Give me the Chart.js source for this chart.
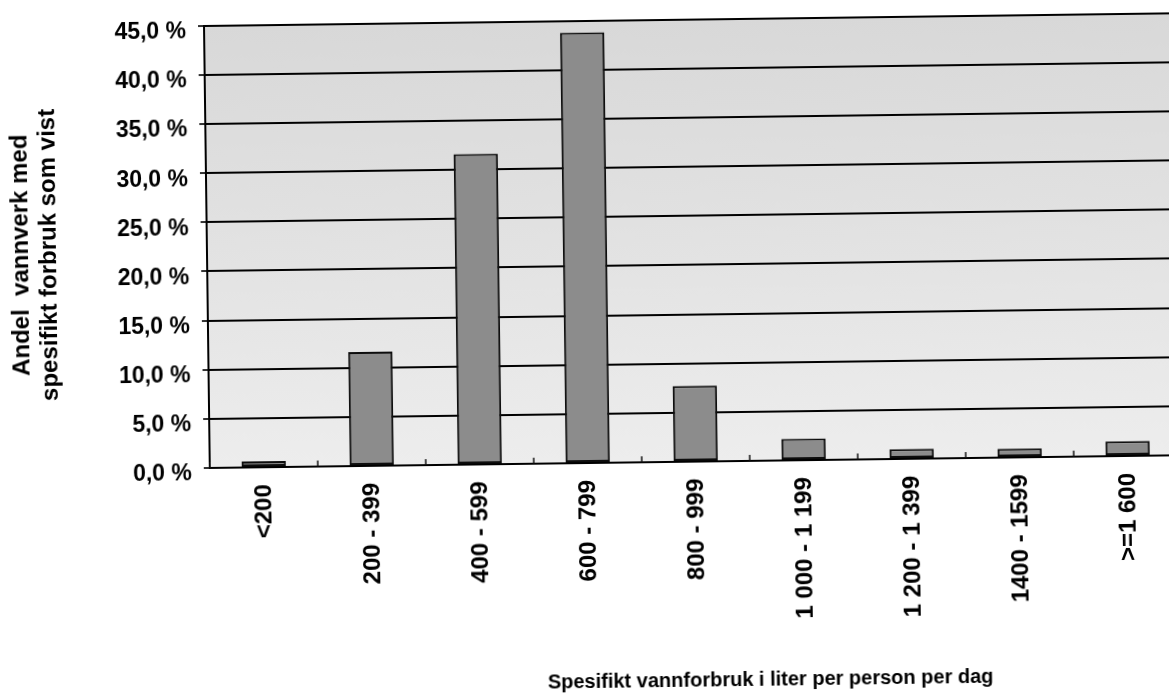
<!DOCTYPE html>
<html lang="no">
<head>
<meta charset="utf-8">
<title>Spesifikt vannforbruk</title>
<script src="https://cdn.jsdelivr.net/npm/chart.js@4/dist/chart.umd.min.js"></script>
<style>
  html, body { margin: 0; padding: 0; background: #ffffff; overflow: hidden; width: 1169px; height: 699px; }
  #wrap { position: relative; width: 1169px; height: 699px; overflow: hidden; }
  #c { position: absolute; left: 0; top: 0; transform: rotate(-0.75deg); transform-origin: 204px 25px; }
</style>
</head>
<body>
<div id="wrap"><canvas id="c" width="1200" height="699"></canvas></div>
<script>
// Spesifikt forbruk (liter per person per dag), klasser
const categories = ['<200', '200 - 399', '400 - 599', '600 - 799', '800 - 999', '1 000 - 1 199', '1 200 - 1 399', '1400 - 1599', '>=1 600'];
// Andel vannverk i hver klasse (prosent)
const shares = [0.6, 11.6, 31.6, 43.8, 7.7, 2.2, 1.0, 0.9, 1.5];
// Verdiakse
const yTickValues = [0, 5, 10, 15, 20, 25, 30, 35, 40, 45];
const yTitleLines = ['Andel  vannverk med', 'spesifikt forbruk som vist'];
const xTitle = 'Spesifikt vannforbruk i liter per person per dag';

const FONT = "'Liberation Sans', Arial, Helvetica, sans-serif";

// Grå bakgrunn i plottområdet
const plotBackground = {
  id: 'plotBackground',
  beforeDraw(chart) {
    const { ctx, chartArea: a } = chart;
    const g = ctx.createLinearGradient(0, a.top, 0, a.bottom);
    g.addColorStop(0, '#d8d8d8');
    g.addColorStop(0.5, '#e2e2e2');
    g.addColorStop(1, '#ededed');
    ctx.save();
    ctx.fillStyle = g;
    ctx.fillRect(a.left, a.top, a.right - a.left, a.bottom - a.top);
    ctx.restore();
  }
};

// Korte innvendige merker mellom kategoriene på x-aksen
const innerTicks = {
  id: 'innerTicks',
  afterDatasetsDraw(chart) {
    const { ctx, chartArea: a } = chart;
    const xs = chart.scales.x;
    const n = categories.length;
    ctx.save();
    ctx.strokeStyle = '#111';
    ctx.lineWidth = 1.5;
    for (let i = 0; i <= n; i++) {
      let x;
      if (i === 0) x = a.left;
      else if (i === n) x = a.right;
      else x = (xs.getPixelForTick(i - 1) + xs.getPixelForTick(i)) / 2;
      ctx.beginPath();
      ctx.moveTo(x, a.bottom);
      ctx.lineTo(x, a.bottom - 6);
      ctx.stroke();
    }
    ctx.restore();
  }
};

// Aksetitler
const axisTitles = {
  id: 'axisTitles',
  afterDraw(chart) {
    const { ctx, chartArea: a } = chart;
    ctx.save();
    ctx.fillStyle = '#000';
    ctx.textAlign = 'center';
    ctx.textBaseline = 'middle';
    ctx.font = 'bold 20px ' + FONT;
    ctx.fillText(xTitle, 762, 687);
    ctx.font = 'bold 24px ' + FONT;
    const cy = (a.top + a.bottom) / 2 + 6;
    const xs = [18, 46];
    yTitleLines.forEach((line, i) => {
      ctx.save();
      ctx.translate(xs[i], cy);
      ctx.rotate(-Math.PI / 2);
      ctx.fillText(line, 0, 0);
      ctx.restore();
    });
    ctx.restore();
  }
};

new Chart(document.getElementById('c'), {
  type: 'bar',
  data: {
    labels: categories,
    datasets: [{
      data: shares,
      backgroundColor: '#8c8c8c',
      borderColor: '#0d0d0d',
      borderWidth: 2,
      borderSkipped: false,
      categoryPercentage: 1.0,
      barPercentage: 0.41
    }]
  },
  options: {
    responsive: false,
    animation: false,
    devicePixelRatio: 1,
    layout: { padding: { left: 0, top: 25, right: 24, bottom: 0 } },
    plugins: {
      legend: { display: false },
      tooltip: { enabled: false },
      title: { display: false }
    },
    scales: {
      x: {
        offset: true,
        grid: { display: false, drawTicks: false },
        border: { display: true, color: '#000', width: 2 },
        ticks: {
          color: '#000',
          font: { family: FONT, size: 24, weight: 'bold' },
          minRotation: 90,
          maxRotation: 90,
          autoSkip: false,
          padding: 17
        },
        afterFit(scale) { scale.height = 231; }
      },
      y: {
        min: 0,
        max: 45,
        afterBuildTicks(scale) { scale.ticks = yTickValues.map(v => ({ value: v })); },
        grid: { color: '#000', lineWidth: 2, drawTicks: true, tickLength: 6, tickColor: '#333' },
        border: { display: true, color: '#000', width: 2 },
        ticks: {
          color: '#000',
          font: { family: FONT, size: 23, weight: 'bold' },
          padding: 12,
          labelOffset: 6,
          callback: (v) => v.toFixed(1).replace('.', ',') + ' %'
        },
        afterFit(scale) { scale.width = 204; }
      }
    }
  },
  plugins: [plotBackground, innerTicks, axisTitles]
});
</script>
</body>
</html>
